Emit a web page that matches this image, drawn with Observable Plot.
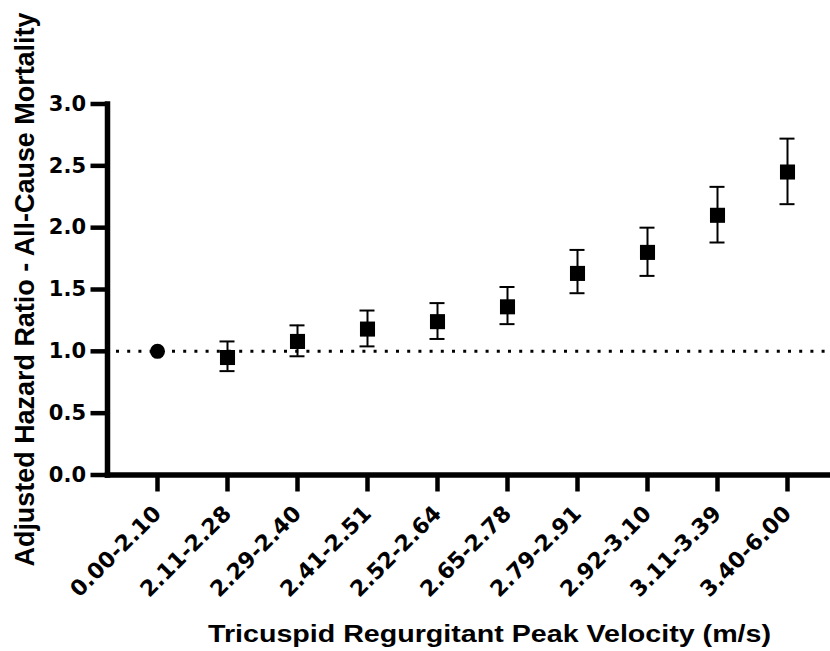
<!DOCTYPE html>
<html><head><meta charset="utf-8">
<script src="https://cdn.jsdelivr.net/npm/d3@7"></script>
<script src="https://cdn.jsdelivr.net/npm/@observablehq/plot@0.6"></script>
<style>
body{margin:0;background:#fff}
g[aria-label="y-axis label"] text{font-family:"Liberation Sans",Arial,sans-serif;font-size:27px;font-weight:bold}
g[aria-label="x-axis label"] text{font-family:"Liberation Sans",Arial,sans-serif;font-size:23px;font-weight:bold}
g[aria-label="x-axis tick label"] text{font-size:22px}
</style></head><body><div id="chart"></div>
<script>
const categories = ["0.00-2.10","2.11-2.28","2.29-2.40","2.41-2.51","2.52-2.64","2.65-2.78","2.79-2.91","2.92-3.10","3.11-3.39","3.40-6.00"];
const hazardRatio = [1.00, 0.95, 1.08, 1.18, 1.24, 1.36, 1.63, 1.80, 2.10, 2.45];
const ciLower = [null, 0.84, 0.96, 1.04, 1.10, 1.22, 1.47, 1.61, 1.88, 2.19];
const ciUpper = [null, 1.08, 1.21, 1.33, 1.39, 1.52, 1.82, 2.00, 2.33, 2.72];
const yTicks = [0, 0.5, 1.0, 1.5, 2.0, 2.5, 3.0];
const referenceLevel = [1];
const xTitle = "Tricuspid Regurgitant Peak Velocity (m/s)";
const yTitle = "Adjusted Hazard Ratio - All-Cause Mortality";

const rows = categories.map((c, i) => ({cat: c, hr: hazardRatio[i], lo: ciLower[i], hi: ciUpper[i], ref: i === 0}));
const refRows = rows.filter(d => d.ref);
const groupRows = rows.filter(d => !d.ref);

const chart = Plot.plot({
  width: 830, height: 651,
  marginLeft: 107, marginRight: 3, marginTop: 103.5, marginBottom: 176.5,
  style: {fontFamily: "DejaVu Sans", fontWeight: "bold", fontSize: "21px", color: "#000", background: "#fff", overflow: "visible"},
  x: {type: "point", domain: categories, padding: 0.611, align: 0.558},
  y: {domain: [0, 3]},
  marks: [
    Plot.ruleY(referenceLevel, {strokeDasharray: "3,8.2", strokeWidth: 3, insetLeft: 9}),
    Plot.ruleX(groupRows, {x: "cat", y1: "lo", y2: "hi", strokeWidth: 2}),
    Plot.ruleY(groupRows, {x1: "cat", x2: "cat", y: "lo", strokeWidth: 2, insetLeft: -7.5, insetRight: -7.5}),
    Plot.ruleY(groupRows, {x1: "cat", x2: "cat", y: "hi", strokeWidth: 2, insetLeft: -7.5, insetRight: -7.5}),
    Plot.dot(refRows, {x: "cat", y: "hr", r: 7.5, fill: "#000", symbol: "circle"}),
    Plot.dot(groupRows, {x: "cat", y: "hr", r: 8.5, fill: "#000", symbol: "square"}),
    Plot.axisY({ticks: yTicks, tickFormat: d3.format(".1f"), tickSize: 16.5, tickPadding: 5, strokeWidth: 4.5,
      label: yTitle, labelAnchor: "center", labelOffset: 93}),
    Plot.axisX({tickSize: 17, tickPadding: 18, tickRotate: -45, strokeWidth: 4.5,
      label: xTitle, labelAnchor: "center", labelOffset: 167}),
    Plot.frame({anchor: "left", strokeWidth: 5.5, strokeLinecap: "square"}),
    Plot.frame({anchor: "bottom", strokeWidth: 5.5, strokeLinecap: "square"})
  ]
});
document.getElementById("chart").appendChild(chart);
const xl = chart.querySelector('g[aria-label="x-axis label"] text');
if (xl) { xl.textContent = xTitle; xl.setAttribute("textLength", 563); xl.setAttribute("lengthAdjust", "spacingAndGlyphs"); xl.setAttribute("dx", 22); }
const yl = chart.querySelector('g[aria-label="y-axis label"] text');
if (yl) { yl.textContent = yTitle; yl.setAttribute("textLength", 554); yl.setAttribute("lengthAdjust", "spacingAndGlyphs"); }
</script></body></html>
